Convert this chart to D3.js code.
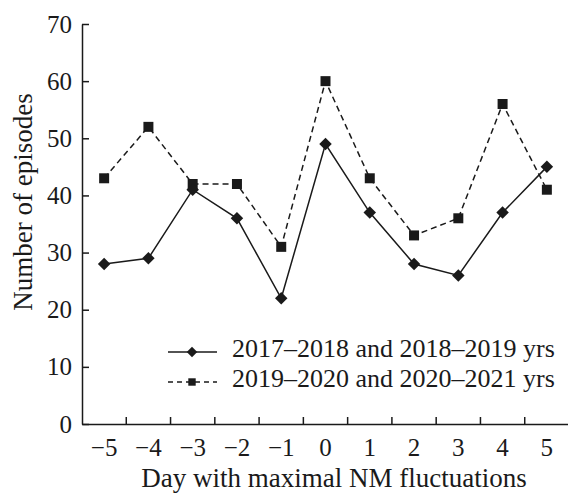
<!DOCTYPE html>
<html>
<head>
<meta charset="utf-8">
<script src="https://cdn.jsdelivr.net/npm/d3@7"></script>
<style>
  html, body { margin: 0; padding: 0; background: #fff; }
  svg text { font-family: "Liberation Serif", "DejaVu Serif", serif; fill: #1a1a1a; }
</style>
</head>
<body>
<svg id="chart" width="568" height="493"></svg>
<script>
// Days relative to the day of maximal neutron-monitor fluctuations
const days = [-5, -4, -3, -2, -1, 0, 1, 2, 3, 4, 5];
// Number of episodes per day, two observation periods
const seriesA = [28, 29, 41, 36, 22, 49, 37, 28, 26, 37, 45];
const seriesB = [43, 52, 42, 42, 31, 60, 43, 33, 36, 56, 41];
const seriesNames = ["2017\u20132018 and 2018\u20132019 yrs", "2019\u20132020 and 2020\u20132021 yrs"];
const yTicks = [0, 10, 20, 30, 40, 50, 60, 70];

(function () {
const svg = d3.select("#chart");
const ink = "#1a1a1a";
const mLeft = 82, mRight = 569, mTop = 24, mBottom = 424;

const x = d3.scaleBand().domain(days).range([mLeft, mRight]).paddingInner(0).paddingOuter(0);
const y = d3.scaleLinear().domain([0, 70]).range([mBottom, mTop]);
const cx = d => x(d) + x.bandwidth() / 2;

// Y axis: ticks pointing into the plot
const yAxis = svg.append("g").attr("transform", `translate(${mLeft},0)`)
  .call(d3.axisLeft(y).tickValues(yTicks).tickSizeInner(-7).tickSizeOuter(0).tickPadding(10));
yAxis.select(".domain").attr("stroke", ink).attr("stroke-width", 1.5);
yAxis.selectAll(".tick line").attr("stroke", ink).attr("stroke-width", 1.5);
yAxis.selectAll(".tick text").attr("font-size", 25).attr("font-family", "Liberation Serif").attr("fill", ink);

// X axis: category labels centred in bands, tick marks on band boundaries
const xAxis = svg.append("g").attr("transform", `translate(0,${mBottom})`)
  .call(d3.axisBottom(x).tickSize(0).tickPadding(14)
    .tickFormat(d => d < 0 ? "\u2212" + Math.abs(d) : String(d)));
xAxis.select(".domain").attr("stroke", ink).attr("stroke-width", 1.5);
xAxis.selectAll(".tick text").attr("font-size", 25).attr("font-family", "Liberation Serif").attr("fill", ink);
svg.append("g").selectAll("line").data(days.slice(1)).join("line")
  .attr("x1", d => x(d)).attr("x2", d => x(d))
  .attr("y1", mBottom).attr("y2", mBottom - 7)
  .attr("stroke", ink).attr("stroke-width", 1.5);

// Axis titles
svg.append("text").attr("x", 334).attr("y", 487).attr("text-anchor", "middle")
  .attr("font-size", 27).text("Day with maximal NM fluctuations");
svg.append("text").attr("transform", `translate(32,202) rotate(-90)`)
  .attr("text-anchor", "middle").attr("font-size", 27).text("Number of episodes");

const line = d3.line().x((d, i) => cx(days[i])).y(d => y(d));
const diamond = d3.symbol().type(d3.symbolSquare).size(78);
const square = d3.symbol().type(d3.symbolSquare).size(100);

// Series B: dashed line, square markers
svg.append("path").datum(seriesB).attr("d", line)
  .attr("fill", "none").attr("stroke", ink).attr("stroke-width", 1.5).attr("stroke-dasharray", "6,4");
svg.append("g").selectAll("path").data(seriesB).join("path")
  .attr("transform", (d, i) => `translate(${cx(days[i])},${y(d)})`)
  .attr("d", square).attr("fill", ink);

// Series A: solid line, diamond markers (squares turned 45 degrees)
svg.append("path").datum(seriesA).attr("d", line)
  .attr("fill", "none").attr("stroke", ink).attr("stroke-width", 1.5);
svg.append("g").selectAll("path").data(seriesA).join("path")
  .attr("transform", (d, i) => `translate(${cx(days[i])},${y(d)}) rotate(45)`)
  .attr("d", diamond).attr("fill", ink);

// Legend
const legend = svg.append("g");
const rows = [
  { name: seriesNames[0], dash: null, sym: d3.symbol().type(d3.symbolSquare).size(55), rot: 45, yy: 352 },
  { name: seriesNames[1], dash: "5,4", sym: d3.symbol().type(d3.symbolSquare).size(55), rot: 0, yy: 382 }
];
rows.forEach(r => {
  legend.append("line").attr("x1", 168).attr("x2", 217).attr("y1", r.yy).attr("y2", r.yy)
    .attr("stroke", ink).attr("stroke-width", 1.5).attr("stroke-dasharray", r.dash);
  legend.append("path").attr("transform", `translate(192,${r.yy}) rotate(${r.rot})`).attr("d", r.sym).attr("fill", ink);
  legend.append("text").attr("x", 232).attr("y", r.yy + 5).attr("font-size", 26).text(r.name);
});
})();
</script>
</body>
</html>
